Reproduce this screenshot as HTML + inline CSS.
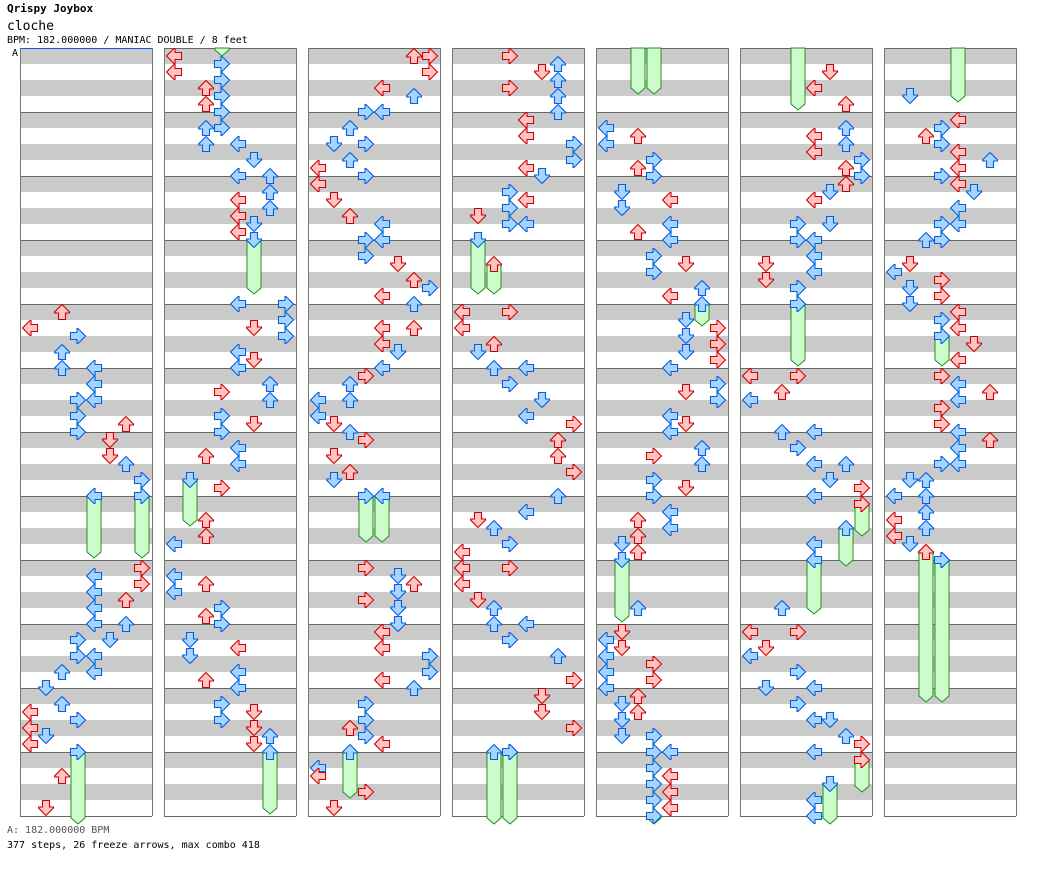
<!DOCTYPE html>
<html><head><meta charset="utf-8"><style>
body{margin:0;background:#fff;width:1040px;height:876px;overflow:hidden;font-family:"DejaVu Sans Mono","Liberation Mono",monospace;}
.t{position:absolute;left:7px;white-space:pre;color:#000}
</style></head><body>
<div class="t" style="top:2px;font-size:11px;font-weight:bold">Qrispy Joybox</div>
<div class="t" style="top:19px;font-size:13px">cloche</div>
<div class="t" style="top:35px;font-size:10px">BPM: 182.000000 / MANIAC DOUBLE / 8 feet</div>
<div class="t" style="top:48px;left:12px;font-size:10px">A</div>
<div class="t" style="top:825px;font-size:10px;color:#555">A: 182.000000 BPM</div>
<div class="t" style="top:840px;font-size:10px">377 steps, 26 freeze arrows, max combo 418</div>
<svg id="s" width="1040" height="876" style="position:absolute;left:0;top:0"></svg>
<script>
const C=[
{n:[[2,312],[0,328],[3,336],[2,352],[2,368],[4,368],[4,384],[3,400],[4,400],[3,416],[6,424],[3,432],[5,440],[5,456],[6,464],[7,480],[7,568],[7,584],[4,576],[4,592],[6,600],[4,608],[4,624],[6,624],[5,640],[3,640],[4,656],[3,656],[2,672],[4,672],[1,688],[2,704],[3,720],[0,712],[0,728],[1,736],[0,744],[2,776],[1,808]],
 f:[[4,496,558],[7,496,558],[3,752,824]]},
{n:[[0,56],[0,72],[3,64],[3,80],[3,96],[3,112],[3,128],[2,88],[2,104],[2,128],[2,144],[4,144],[5,160],[4,176],[6,176],[6,192],[6,208],[4,200],[4,216],[4,232],[5,224],[4,304],[7,304],[7,320],[7,336],[5,328],[4,352],[4,368],[5,360],[3,392],[6,384],[6,400],[3,416],[3,432],[5,424],[4,448],[4,464],[2,456],[3,488],[2,520],[2,536],[0,544],[0,576],[0,592],[2,584],[2,616],[3,608],[3,624],[1,640],[1,656],[4,648],[4,672],[2,680],[4,688],[3,704],[3,720],[5,712],[5,728],[5,744],[6,736]],
 f:[[3,40,56],[5,240,294],[1,480,526],[6,752,814]]},
{n:[[6,56],[7,56],[7,72],[4,88],[6,96],[3,112],[4,112],[2,128],[1,144],[3,144],[2,160],[0,168],[0,184],[3,176],[1,200],[2,216],[4,224],[3,240],[4,240],[3,256],[5,264],[6,280],[7,288],[4,296],[6,304],[4,328],[6,328],[4,344],[5,352],[4,368],[3,376],[2,384],[2,400],[0,400],[0,416],[1,424],[2,432],[3,440],[1,456],[2,472],[1,480],[3,568],[5,576],[5,592],[6,584],[3,600],[5,608],[5,624],[4,632],[4,648],[7,656],[7,672],[4,680],[6,688],[3,704],[3,720],[2,728],[3,736],[4,744],[0,768],[0,776],[3,792],[1,808]],
 f:[[3,496,542],[4,496,542],[2,752,798]]},
{n:[[3,56],[5,72],[6,64],[6,80],[6,96],[6,112],[3,88],[4,120],[4,136],[7,144],[7,160],[4,168],[5,176],[3,192],[3,208],[4,200],[3,224],[1,216],[4,224],[0,312],[0,328],[3,312],[1,352],[2,344],[2,368],[3,384],[4,368],[5,400],[4,416],[7,424],[6,440],[6,456],[7,472],[6,496],[4,512],[1,520],[2,528],[3,544],[0,552],[0,568],[0,584],[3,568],[1,600],[2,608],[2,624],[4,624],[3,640],[6,656],[7,680],[5,696],[5,712],[7,728],[3,752]],
 f:[[1,240,294],[2,264,294],[2,752,824],[3,752,824]]},
{n:[[0,128],[0,144],[2,136],[3,160],[3,176],[2,168],[1,192],[1,208],[4,200],[4,224],[4,240],[2,232],[3,256],[3,272],[5,264],[4,296],[6,288],[5,320],[5,336],[5,352],[7,328],[7,344],[7,360],[4,368],[7,384],[7,400],[5,392],[4,416],[4,432],[5,424],[6,448],[6,464],[3,456],[3,480],[3,496],[5,488],[4,512],[4,528],[2,520],[2,536],[2,552],[1,544],[2,608],[1,632],[1,648],[0,640],[0,656],[0,672],[0,688],[3,664],[3,680],[2,696],[2,712],[1,704],[1,720],[1,736],[3,736],[3,752],[3,768],[3,784],[3,800],[4,752],[4,776],[4,792],[4,808]],
 f:[[2,40,94],[3,40,94],[6,304,326],[1,560,622],[3,816,824]]},
{n:[[5,72],[4,88],[6,104],[6,128],[6,144],[4,136],[4,152],[7,160],[7,176],[6,168],[6,184],[5,192],[4,200],[5,224],[3,224],[3,240],[4,240],[4,256],[4,272],[1,264],[1,280],[3,288],[0,376],[3,376],[2,392],[0,400],[2,432],[4,432],[3,448],[4,464],[6,464],[5,480],[7,488],[4,496],[4,544],[2,608],[0,632],[3,632],[1,648],[0,656],[3,672],[4,688],[1,688],[3,704],[4,720],[5,720],[6,736],[7,744],[4,752],[4,800],[4,816]],
 f:[[3,40,110],[3,304,366],[7,504,536],[6,528,566],[4,560,614],[7,760,792],[5,784,824]]},
{n:[[1,96],[4,120],[2,136],[3,128],[3,144],[4,152],[4,168],[4,184],[6,160],[3,176],[5,192],[4,208],[3,224],[4,224],[2,240],[3,240],[0,272],[1,264],[3,280],[3,296],[1,288],[1,304],[4,312],[4,328],[3,320],[5,344],[4,360],[3,376],[4,384],[6,392],[4,400],[3,408],[3,424],[4,432],[6,440],[4,448],[4,464],[3,464],[1,480],[2,480],[0,496],[2,496],[2,512],[2,528],[0,520],[0,536],[1,544],[2,552],[3,560]],
 f:[[4,40,102],[3,336,366],[2,552,702],[3,560,702]]}
];
const XS=[20,164,308,452,596,740,884];
const DIR=[-90,180,0,90,-90,180,0,90];
let h='';
for(const x of XS){
 h+=`<rect x="${x}" y="48" width="132" height="768" fill="#fff"/>`;
 for(let y=48;y<816;y+=32)h+=`<rect x="${x}" y="${y}" width="132" height="16" fill="#cacaca"/>`;
 for(let y=48;y<=816;y+=64)h+=`<line x1="${x}" x2="${x+132}" y1="${y+.5}" y2="${y+.5}" stroke="#666"/>`;
 h+=`<line x1="${x+.5}" x2="${x+.5}" y1="48" y2="816" stroke="#777"/><line x1="${x+132.5}" x2="${x+132.5}" y1="48" y2="816" stroke="#777"/>`;
}
h+=`<line x1="20" x2="152" y1="48.5" y2="48.5" stroke="#1060d0"/>`;
function col(cy){const r=(cy-56)%16;if(r==0)return['#ffc4c4','#d00000'];if(r==8)return['#a8d4ff','#0060e0'];return['#f4c4f4','#c030c0'];}
function arrow(cx,cy,l){const [f,s]=col(cy);return `<polygon transform="translate(${cx},${cy}) rotate(${DIR[l]})" points="0,-7.5 7.5,0 7.5,1 3.5,1 3.5,7.5 -3.5,7.5 -3.5,1 -7.5,1 -7.5,0" fill="${f}" stroke="${s}" stroke-width="1.1"/>`;}
let fr='',ar='';
C.forEach((c,i)=>{const x=XS[i];
 c.f.forEach(([l,a,b])=>{const cx=x+10+16*l;fr+=`<polygon points="${cx-7},${Math.max(a,48)} ${cx+7},${Math.max(a,48)} ${cx+7},${b-6} ${cx},${b} ${cx-7},${b-6}" fill="#ccfccc" stroke="#209020"/>`;
  if(a>=48)ar+=arrow(cx,a,l);});
 c.n.forEach(([l,y])=>{ar+=arrow(x+10+16*l,y,l);});
});
document.getElementById('s').innerHTML=h+fr+ar;
</script>
</body></html>
